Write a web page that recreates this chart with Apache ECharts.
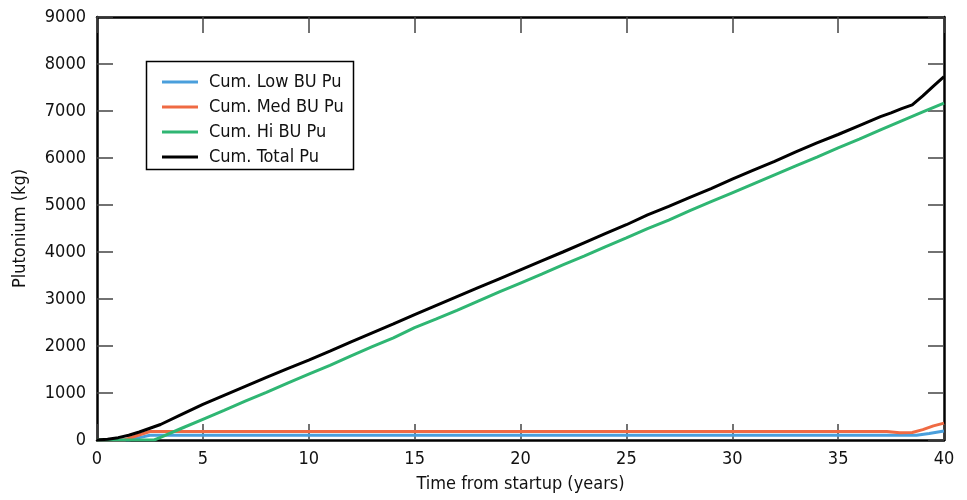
<!DOCTYPE html>
<html>
<head>
<meta charset="utf-8">
<script src="https://cdn.jsdelivr.net/npm/echarts@6/dist/echarts.min.js"></script>
<style>
html,body{margin:0;padding:0;background:#fff;}
#c{width:967px;height:500px;}
</style>
</head>
<body>
<div id="c"></div>
<script>
var FONT = '"Liberation Sans Narrow", "DejaVu Sans Condensed", "Liberation Sans", sans-serif';
var seriesNames = ['Cum. Low BU Pu', 'Cum. Med BU Pu', 'Cum. Hi BU Pu', 'Cum. Total Pu'];
var seriesColors = ['#4a9fdc', '#ef6a43', '#2fb673', '#000000'];
var xTicks = [0, 5, 10, 15, 20, 25, 30, 35, 40];
var yTicks = [0, 1000, 2000, 3000, 4000, 5000, 6000, 7000, 8000, 9000];

var lowBU = [[0,0],[1.5,0],[2,50],[2.5,100],[5,100],[10,100],[15,100],[20,100],[25,100],[30,100],[35,100],[38.7,100],[39.3,140],[40,190]];
var medBU = [[0,0],[1.3,0],[1.8,80],[2.5,180],[5,180],[10,180],[15,180],[20,180],[25,180],[30,180],[35,180],[37.3,180],[37.9,155],[38.5,160],[39,220],[39.5,300],[40,360]];
var hiBU = [[0,0],[2.7,0],[3,55],[4,250],[5,440],[6,630],[7,825],[8,1015],[9,1210],[10,1400],[11,1590],[12,1790],[13,1985],[14,2175],[15,2390],[16,2570],[17,2760],[18,2955],[19,3150],[20,3340],[21,3530],[22,3725],[23,3910],[24,4110],[25,4300],[26,4495],[27,4680],[28,4880],[29,5070],[30,5260],[31,5450],[32,5640],[33,5830],[34,6020],[35,6215],[36,6400],[37,6600],[38,6790],[39,6980],[40,7170]];
var totalPu = [[0,0],[0.5,15],[1,50],[1.5,100],[2,170],[2.5,250],[3,330],[4,545],[5,760],[6,950],[7,1140],[8,1330],[9,1520],[10,1700],[11,1890],[12,2090],[13,2280],[14,2470],[15,2670],[16,2860],[17,3050],[18,3240],[19,3430],[20,3620],[21,3810],[22,4000],[23,4195],[24,4390],[25,4580],[26,4790],[27,4970],[28,5160],[29,5350],[30,5550],[31,5740],[32,5930],[33,6130],[34,6320],[35,6500],[36,6690],[37,6880],[37.5,6960],[38,7050],[38.5,7130],[39,7320],[39.5,7530],[40,7730]];

var dataSets = [lowBU, medBU, hiBU, totalPu];

var chart = echarts.init(document.getElementById('c'));
var tickStyle = {show:true, inside:true, length:16, lineStyle:{color:'#444', width:1.5}};
var axisLineStyle = {show:true, onZero:false, lineStyle:{color:'#000', width:2.5}};
function plain(v){ return String(v); }
var option = {
  animation:false,
  backgroundColor:'#fff',
  textStyle:{fontFamily:FONT},
  grid:{left:97, right:23, top:17, bottom:60, containLabel:false},
  xAxis:[{
    type:'value', min:xTicks[0], max:xTicks[xTicks.length-1], interval:5,
    name:'Time from startup (years)', nameLocation:'middle', nameGap:35,
    nameTextStyle:{fontFamily:FONT, fontSize:18, color:'#111'},
    axisLine:axisLineStyle, axisTick:tickStyle, splitLine:{show:false},
    axisLabel:{fontFamily:FONT, fontSize:18, color:'#111', margin:10, formatter:plain}
  },{
    type:'value', position:'top', min:xTicks[0], max:xTicks[xTicks.length-1], interval:5,
    axisLine:axisLineStyle, axisTick:tickStyle, splitLine:{show:false}, axisLabel:{show:false}
  }],
  yAxis:[{
    type:'value', min:yTicks[0], max:yTicks[yTicks.length-1], interval:1000,
    name:'Plutonium (kg)', nameLocation:'middle', nameGap:68,
    nameTextStyle:{fontFamily:FONT, fontSize:18, color:'#111'},
    axisLine:axisLineStyle, axisTick:tickStyle, splitLine:{show:false},
    axisLabel:{fontFamily:FONT, fontSize:18, color:'#111', margin:11, formatter:plain}
  },{
    type:'value', position:'right', min:yTicks[0], max:yTicks[yTicks.length-1], interval:1000,
    axisLine:axisLineStyle, axisTick:tickStyle, splitLine:{show:false}, axisLabel:{show:false}
  }],
  legend:{
    orient:'vertical', left:157, top:67, itemWidth:36, itemHeight:3, itemGap:5,
    icon:'rect', data:seriesNames,
    textStyle:{fontFamily:FONT, fontSize:18, color:'#111', lineHeight:20, padding:[0,0,0,6]}
  },
  graphic:[{type:'rect', left:144, top:59, shape:{width:207, height:108}, style:{fill:'none', stroke:'#000', lineWidth:1.5}, z:100}],
  series: dataSets.map(function(d, i){
    return {
      name:seriesNames[i], type:'line', data:d, showSymbol:false, symbol:'none',
      lineStyle:{color:seriesColors[i], width:3}, itemStyle:{color:seriesColors[i]},
      z: 2 + i
    };
  })
};
chart.setOption(option);
</script>
</body>
</html>
